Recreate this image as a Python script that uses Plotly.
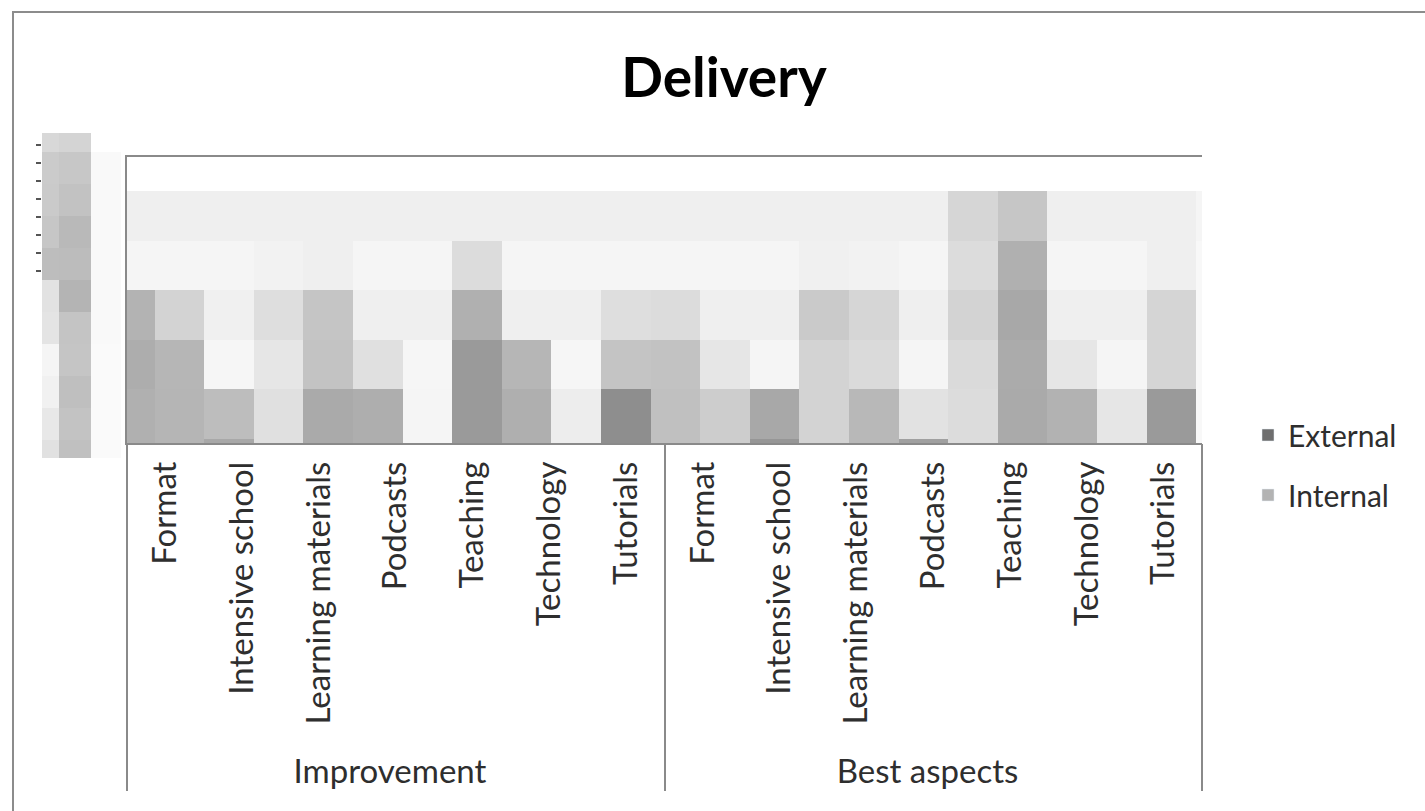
import plotly.graph_objects as go

# ---- data -------------------------------------------------------------
groups = ["Improvement"] * 7 + ["Best aspects"] * 7
aspects = ["Format", "Intensive school", "Learning materials", "Podcasts",
           "Teaching", "Technology", "Tutorials"] * 2
series_names = ["External", "Internal"]
series_colors = ["#6e6e6e", "#b3b3b3"]

# grey level (0-255) of each tile of the plot area, one list per tile row
shade_r1 = [239, 239, 239, 239, 239, 239, 239, 239, 239, 239, 239, 239,
            239, 239, 239, 239, 239, 214, 198, 239, 239, 239, 245]
shade_r2 = [245, 245, 245, 242, 239, 245, 245, 220, 245, 245, 245, 245,
            245, 245, 240, 242, 245, 220, 176, 245, 245, 239, 248]
shade_r3 = [179, 211, 240, 222, 197, 239, 239, 176, 239, 239, 222, 220,
            239, 239, 202, 214, 239, 211, 168, 239, 239, 213, 248]
shade_r4 = [173, 182, 246, 230, 195, 224, 246, 154, 182, 246, 196, 194,
            230, 245, 211, 218, 245, 218, 171, 230, 245, 213, 248]
shade_r5 = [176, 181, 189, 224, 170, 174, 245, 154, 175, 237, 142, 192,
            205, 168, 211, 184, 226, 220, 170, 178, 230, 154, 248]
shade_r6 = [176, 181, 168, 224, 170, 174, 245, 154, 175, 237, 142, 192,
            205, 150, 211, 184, 160, 220, 170, 178, 230, 154, 248]

# grey level of the tiles in the value-axis strip, one list per tile column
axis_shade_a = [216, 203, 202, 198, 189, 226, 228, 245, 241, 232, 225]
axis_shade_b = [212, 199, 194, 185, 188, 180, 196, 197, 191, 195, 192]
axis_shade_c = [None, 249, 249, 249, 249, 249, 249, 250, 250, 250, 250]

# ---- geometry (pixels of the 1425 x 811 page) --------------------------
W, H = 1425, 811
FONT = "Lato"
TEXT = "#2e2e2e"
LINE = "#8a8a8a"


def fx(px):
    return px / W


def fy(py):
    return 1 - py / H


PLOT_L, PLOT_R, PLOT_T, PLOT_B = 127, 1202, 157, 443
TILE_X0, TILE_Y0, TILE_W, TILE_H = 154.5, 191, 49.6, 49.5
STRIP_L, STRIP_R, STRIP_T, STRIP_B = 42, 121, 133, 458
STRIP_X0, STRIP_Y0, STRIP_W, STRIP_H = 59.3, 152, 31.5, 32

# rotated labels hang from the axis; a little leading room pushes the
# group row (and the dividers) further down
LABEL_PAD = "\u00a0"
aspect_labels = [LABEL_PAD + a for a in aspects]

fig = go.Figure()

# the two series (legend + category axis)
for name, color in zip(series_names, series_colors):
    fig.add_trace(go.Bar(
        x=[groups, aspect_labels], y=[None] * len(aspects), name=name,
        marker_color=color, legendgroup=name, hoverinfo="skip",
    ))

greys = [[0, "rgb(0,0,0)"], [1, "rgb(255,255,255)"]]

tile_rows = [shade_r1, shade_r2, shade_r3, shade_r4, shade_r5, shade_r6]
fig.add_trace(go.Heatmap(
    z=tile_rows,
    x=[k + 0.5 for k in range(-1, len(shade_r1) - 1)],
    y=[k + 0.5 for k in range(len(tile_rows))],
    colorscale=greys, zmin=0, zmax=255, showscale=False,
    xaxis="x2", yaxis="y2", hoverinfo="skip",
))

strip_rows = [list(t) for t in zip(axis_shade_a, axis_shade_b, axis_shade_c)]
fig.add_trace(go.Heatmap(
    z=strip_rows,
    x=[-0.5, 0.5, 1.5],
    y=[k - 0.5 for k in range(len(axis_shade_a))],
    colorscale=greys, zmin=0, zmax=255, showscale=False,
    xaxis="x3", yaxis="y3", hoverinfo="skip",
))

tick_step = 18 / STRIP_H
tick_first = (145 - STRIP_Y0) / STRIP_H
strip_ticks = [tick_first + k * tick_step for k in range(8)]

fig.update_layout(
    width=W, height=H, autosize=False,
    margin=dict(l=0, r=0, t=0, b=0),
    paper_bgcolor="white", plot_bgcolor="rgba(0,0,0,0)",
    barmode="stack",
    font=dict(family=FONT, color=TEXT, size=33),
    title=dict(text="<b>Delivery</b>", x=fx(724), xanchor="center",
               y=fy(78), yanchor="middle",
               font=dict(family=FONT, size=55, color="black")),
    xaxis=dict(
        type="multicategory", domain=[fx(PLOT_L), fx(PLOT_R)], anchor="y",
        tickangle=-90, showdividers=True, dividercolor=LINE, dividerwidth=1.5,
        showline=False, ticks="", showgrid=False, ticklabelstandoff=11,
        tickfont=dict(family=FONT, size=33, color=TEXT),
    ),
    yaxis=dict(domain=[fy(PLOT_B), fy(PLOT_T)], anchor="x", range=[0, 1],
               visible=False),
    xaxis2=dict(
        overlaying="x", anchor="y2",
        range=[(PLOT_L - TILE_X0) / TILE_W, (PLOT_R - TILE_X0) / TILE_W],
        showline=True, mirror=True, linecolor=LINE, linewidth=1.5,
        showticklabels=False, ticks="", showgrid=False, zeroline=False,
    ),
    yaxis2=dict(
        overlaying="y", anchor="x2",
        range=[(PLOT_B - TILE_Y0) / TILE_H, (PLOT_T - TILE_Y0) / TILE_H],
        showline=True, linecolor=LINE, linewidth=1.5,
        showticklabels=False, ticks="", showgrid=False, zeroline=False,
    ),
    xaxis3=dict(
        domain=[fx(STRIP_L), fx(STRIP_R)], anchor="y3",
        range=[(STRIP_L - STRIP_X0) / STRIP_W, (STRIP_R - STRIP_X0) / STRIP_W],
        showline=False, showticklabels=False, ticks="", showgrid=False,
        zeroline=False,
    ),
    yaxis3=dict(
        domain=[fy(STRIP_B), fy(STRIP_T)], anchor="x3",
        range=[(STRIP_B - STRIP_Y0) / STRIP_H, (STRIP_T - STRIP_Y0) / STRIP_H],
        tickmode="array", tickvals=strip_ticks, ticks="outside", ticklen=5,
        tickwidth=2, tickcolor="#555555", showticklabels=False,
        showline=False, showgrid=False, zeroline=False,
    ),
    legend=dict(
        x=fx(1248), y=fy(409), xanchor="left", yanchor="top",
        traceorder="grouped", tracegroupgap=18, bgcolor="rgba(0,0,0,0)",
        font=dict(family=FONT, size=30, color=TEXT),
    ),
    shapes=[dict(
        type="rect", xref="paper", yref="paper",
        x0=fx(13), x1=fx(1440), y0=fy(830), y1=fy(12),
        line=dict(color="#8c8c8c", width=2), fillcolor="rgba(0,0,0,0)",
        layer="below",
    )],
)

fig.write_html("out.html")
